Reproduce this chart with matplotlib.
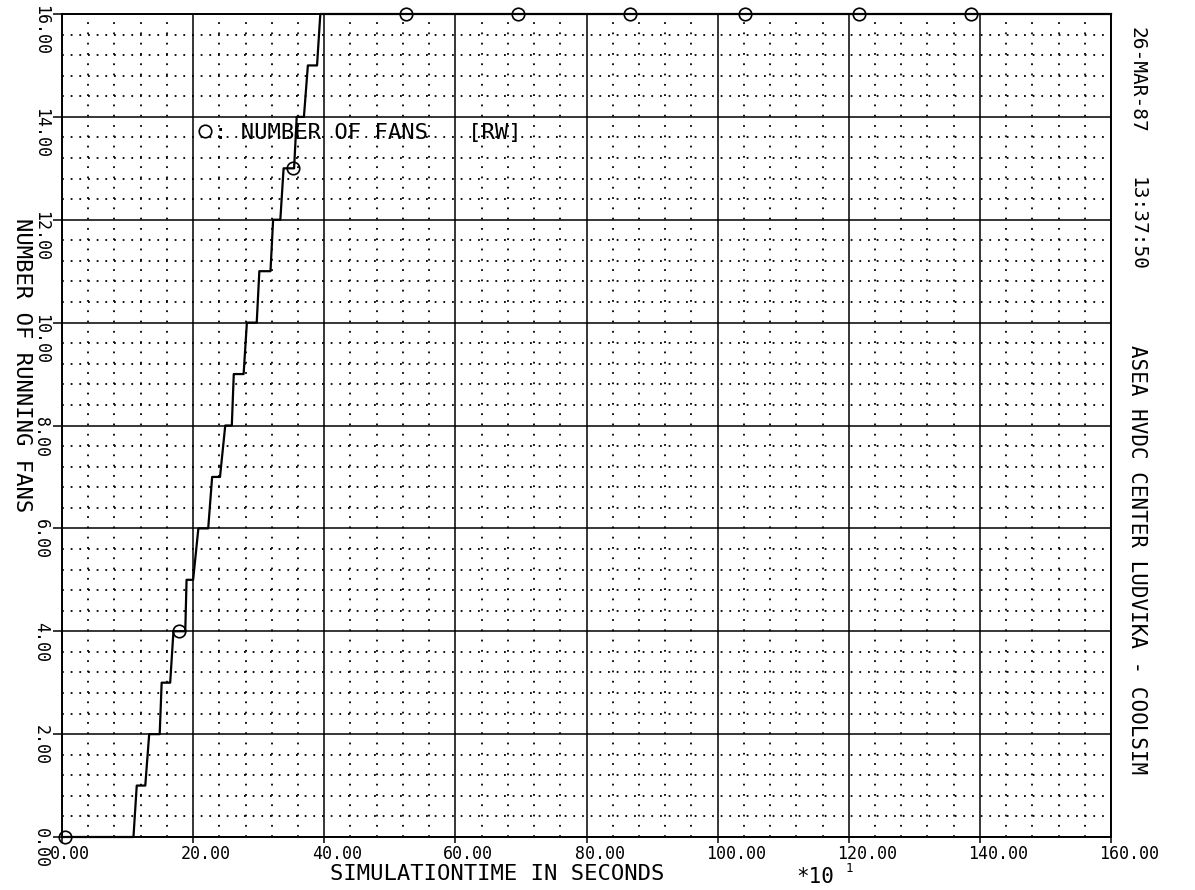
import matplotlib.pyplot as plt
import matplotlib.transforms as mtransforms

# data
step_x = [0.0, 10.9, 11.4, 12.7, 13.3, 14.9, 15.2, 16.5, 17.0, 18.8, 19.0, 20.0,
          20.8, 22.3, 22.9, 24.1, 24.9, 25.9, 26.2, 27.7, 28.2, 29.7, 30.1, 31.8,
          32.2, 33.3, 33.8, 35.4, 35.8, 36.9, 37.5, 38.9, 39.4, 160.0]
fans = [0, 0, 1, 1, 2, 2, 3, 3, 4, 4, 5, 5, 6, 6, 7, 7, 8, 8, 9, 9, 10, 10,
        11, 11, 12, 12, 13, 13, 14, 14, 15, 15, 16, 16]
marker_x = [0.4, 17.8, 35.2, 52.4, 69.5, 86.7, 104.1, 121.5, 138.6]
marker_y = [0, 4, 13, 16, 16, 16, 16, 16, 16]

xticks = [0, 20, 40, 60, 80, 100, 120, 140, 160]
yticks = [0, 2, 4, 6, 8, 10, 12, 14, 16]

mono = 'DejaVu Sans Mono'

fig = plt.figure(figsize=(11.95, 8.9), dpi=100)
ax = fig.add_axes([62/1195, 1-837/890, (1111-62)/1195, (837-14)/890])

ax.set_xlim(0, 160)
ax.set_ylim(0, 16)
ax.set_xticks(xticks)
ax.set_yticks(yticks)
ax.set_xticks([v for v in range(0, 161, 4) if v % 20], minor=True)
ax.set_yticks([i*0.4 for i in range(41) if i % 5], minor=True)
ax.set_xticklabels([])
ax.set_yticklabels([])
ax.tick_params(axis='x', which='major', direction='out', length=4, width=1.1)
ax.tick_params(axis='y', which='major', direction='out', length=6.5, width=1.1)
ax.tick_params(which='minor', length=0)

ax.grid(which='major', color='black', linewidth=1.1)
ax.xaxis.grid(True, which='minor', color='black', linewidth=1.3, linestyle=(0, (1, 4.7)))
ax.yaxis.grid(True, which='minor', color='black', linewidth=1.3, linestyle=(0, (1, 3.8)))
ax.set_axisbelow(True)
for s in ax.spines.values():
    s.set_linewidth(1.4)

ax.plot(step_x, fans, color='black', linewidth=1.6, clip_on=False, zorder=3)
marks, = ax.plot(marker_x, marker_y, 'o', ms=9, mfc='none', mec='black', mew=1.2,
                 clip_on=False, zorder=4)

# tick labels, plotter style
xoff = mtransforms.offset_copy(ax.get_xaxis_transform(), fig=fig, x=-12, y=-8, units='dots')
for v in xticks:
    ax.text(v, 0, '%.2f' % v, transform=xoff, ha='left', va='top',
            fontsize=12, family=mono)
yoff = mtransforms.offset_copy(ax.get_yaxis_transform(), fig=fig, x=-21, y=9, units='dots')
for v in yticks:
    ax.text(0, v, '%.2f' % v, transform=yoff, ha='center', va='top', rotation=270,
            fontsize=12, family=mono)

leg = ax.legend([marks], [': NUMBER OF FANS   [RW]'], loc='center left',
                bbox_to_anchor=(0.128, 0.856), frameon=False, handlelength=0.8,
                handletextpad=0.0, borderpad=0, borderaxespad=0, numpoints=1,
                prop={'family': mono, 'size': 16})

fig.text(497/1195, 1-874/890, 'SIMULATIONTIME IN SECONDS', ha='center', va='center',
         fontsize=16, family=mono)
fig.text(796/1195, 1-877/890, '*10', ha='left', va='center', fontsize=15, family=mono)
fig.text(846/1195, 1-869/890, '1', ha='left', va='center', fontsize=9, family=mono)

fig.text(22/1195, 1-218/890, 'NUMBER OF RUNNING FANS', ha='center', va='top',
         rotation=270, fontsize=16, family=mono)

fig.text(1137/1195, 1-27/890, '26-MAR-87', ha='center', va='top', rotation=270,
         fontsize=14, family=mono)
fig.text(1137/1195, 1-177/890, '13:37:50', ha='center', va='top', rotation=270,
         fontsize=14, family=mono)
fig.text(1137/1195, 1-345/890, 'ASEA HVDC CENTER LUDVIKA - COOLSIM', ha='center',
         va='top', rotation=270, fontsize=15, family=mono)

fig.savefig('out.png', dpi=100)
